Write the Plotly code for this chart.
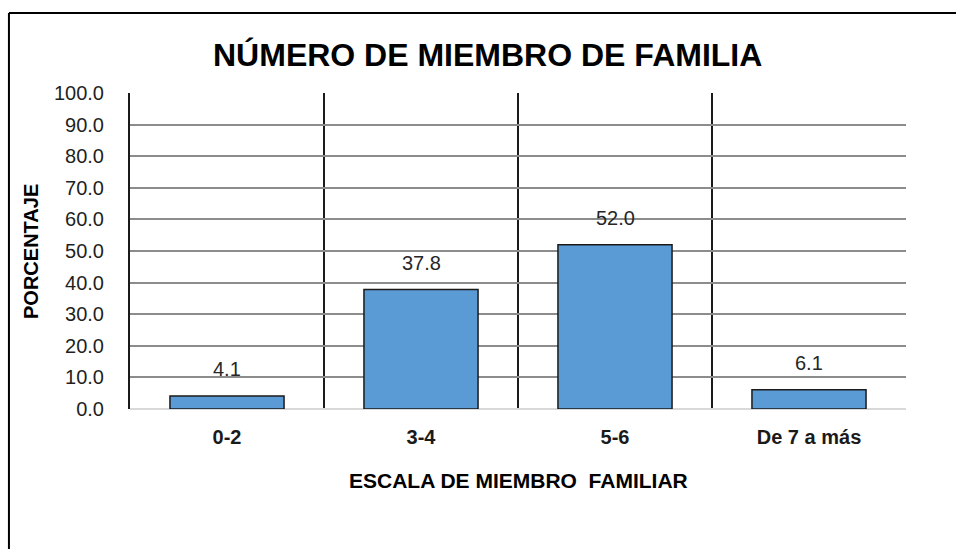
import plotly.graph_objects as go

categories = ["0-2", "3-4", "5-6", "De 7 a más"]
values = [4.1, 37.8, 52.0, 6.1]
y_ticks = [0, 10, 20, 30, 40, 50, 60, 70, 80, 90, 100]
y_tick_labels = [f"{v:.1f}" for v in y_ticks]
value_labels = [f"{v:.1f}" for v in values]

FONT = "Arial, Liberation Sans, sans-serif"

fig = go.Figure()
fig.add_trace(go.Bar(
    x=categories, y=values,
    width=0.588,
    marker=dict(color="#5B9BD5", line=dict(color="#1a1a1a", width=1.5)),
    hoverinfo="skip",
))

for c, v, t in zip(categories, values, value_labels):
    fig.add_annotation(x=c, y=v, text=t, showarrow=False, xref="x", yref="y",
                       yanchor="middle", yshift=27,
                       font=dict(family=FONT, size=20, color="#262626"))

# Title and axis titles
fig.add_annotation(x=0.461, y=1.12, xref="paper", yref="paper", showarrow=False,
                   text="<b>NÚMERO DE MIEMBRO DE FAMILIA</b>", xanchor="center", yanchor="middle",
                   font=dict(family=FONT, size=32, color="#000000"))
fig.add_annotation(x=0.5, y=-0.225, xref="paper", yref="paper", showarrow=False,
                   text="<b>ESCALA DE MIEMBRO \u00a0FAMILIAR</b>", xanchor="center", yanchor="middle",
                   font=dict(family=FONT, size=21, color="#000000"))
fig.add_annotation(x=-0.1276, y=0.5, xref="paper", yref="paper", showarrow=False,
                   text="<b>PORCENTAJE</b>", textangle=-90, xanchor="center", yanchor="middle",
                   font=dict(family=FONT, size=20, color="#000000"))

# Outer chart frame: left and top edges only are visible
fig.add_shape(type="line", xref="paper", yref="paper",
              x0=-0.156, x1=-0.156, y0=-0.6, y1=1.253,
              line=dict(color="#000000", width=2), layer="below")
fig.add_shape(type="line", xref="paper", yref="paper",
              x0=-0.156, x1=1.25, y0=1.253, y1=1.253,
              line=dict(color="#000000", width=2), layer="below")

fig.update_layout(
    width=956, height=549, autosize=False,
    margin=dict(l=130, r=50, t=93, b=140),
    plot_bgcolor="white", paper_bgcolor="white",
    showlegend=False,
    bargap=0.412,
    xaxis=dict(
        type="category", tickson="boundaries",
        showgrid=True, gridcolor="#1a1a1a", gridwidth=2,
        showline=False, ticks="", ticklen=0,
        tickfont=dict(family=FONT, size=20, color="#1a1a1a", weight="bold"),
        ticklabelstandoff=14,
        range=[-0.5, 3.5],
    ),
    yaxis=dict(
        range=[0, 100], tickvals=y_ticks, ticktext=y_tick_labels,
        showgrid=True, gridcolor="#8c8c8c", gridwidth=1.5,
        zeroline=True, zerolinecolor="#d9d9d9", zerolinewidth=2,
        showline=True, linecolor="#1a1a1a", linewidth=2,
        ticks="", ticklabelstandoff=20,
        tickfont=dict(family=FONT, size=20, color="#1f1f1f"),
    ),
)

fig.write_html("out.html", config={"displayModeBar": False},
               post_script="document.body.style.margin='0';")
